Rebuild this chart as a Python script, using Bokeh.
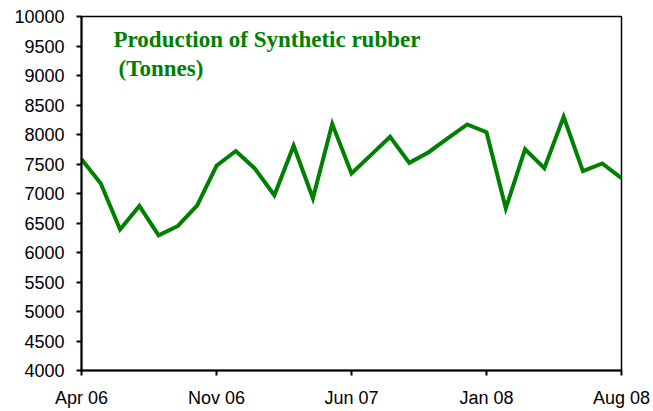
from bokeh.plotting import figure
from bokeh.models import Label, FixedTicker, Range1d
from bokeh.embed import file_html
from bokeh.resources import INLINE

months = ["Apr 06", "May 06", "Jun 06", "Jul 06", "Aug 06", "Sep 06", "Oct 06", "Nov 06",
          "Dec 06", "Jan 07", "Feb 07", "Mar 07", "Apr 07", "May 07", "Jun 07", "Jul 07",
          "Aug 07", "Sep 07", "Oct 07", "Nov 07", "Dec 07", "Jan 08", "Feb 08", "Mar 08",
          "Apr 08", "May 08", "Jun 08", "Jul 08", "Aug 08"]
production = [7580, 7170, 6390, 6790, 6290, 6450, 6800, 7470, 7720, 7420, 6970, 7810,
              6920, 8180, 7340, 7650, 7960, 7520, 7700, 7940, 8170, 8040, 6750, 7750,
              7430, 8300, 7380, 7510, 7260]
tick_labels = ["Apr 06", "Nov 06", "Jun 07", "Jan 08", "Aug 08"]
y_ticks = list(range(4000, 10001, 500))
title_lines = ["Production of Synthetic rubber", "(Tonnes)"]

x = list(range(len(months)))
tick_pos = [months.index(t) for t in tick_labels]

p = figure(width=653, height=411, frame_width=540, frame_height=354,
           output_backend="svg", toolbar_location=None,
           x_range=Range1d(0, len(months) - 1), y_range=Range1d(4000, 10000),
           min_border_left=81, min_border_top=16, min_border_right=32, min_border_bottom=41)

p.line(x, production, line_color="#008000", line_width=4, line_join="miter")

p.xgrid.visible = False
p.ygrid.visible = False
p.outline_line_color = "black"
p.outline_line_width = 1.5
p.background_fill_color = "white"
p.border_fill_color = "white"

for ax in (p.xaxis[0], p.yaxis[0]):
    ax.axis_line_color = "black"
    ax.axis_line_width = 2
    ax.major_tick_line_color = "black"
    ax.major_tick_line_width = 2
    ax.major_tick_in = 0
    ax.major_tick_out = 5
    ax.minor_tick_line_color = None
    ax.major_label_text_font = "Liberation Sans"
    ax.major_label_text_font_size = "18px"
    ax.major_label_text_color = "black"

p.xaxis.ticker = FixedTicker(ticks=tick_pos)
p.xaxis.major_label_overrides = {pos: lab for pos, lab in zip(tick_pos, tick_labels)}
p.xaxis.major_label_standoff = 12
p.yaxis.ticker = FixedTicker(ticks=y_ticks)
p.yaxis.major_label_standoff = 12

p.add_layout(Label(x=1.66, y=9610, text=title_lines[0], text_font="Liberation Serif",
                   text_font_style="bold", text_font_size="23px", text_color="#008000",
                   text_baseline="alphabetic"))
p.add_layout(Label(x=1.92, y=9120, text=title_lines[1], text_font="Liberation Serif",
                   text_font_style="bold", text_font_size="23px", text_color="#008000",
                   text_baseline="alphabetic"))

open("out.html", "w").write(file_html(p, INLINE))
